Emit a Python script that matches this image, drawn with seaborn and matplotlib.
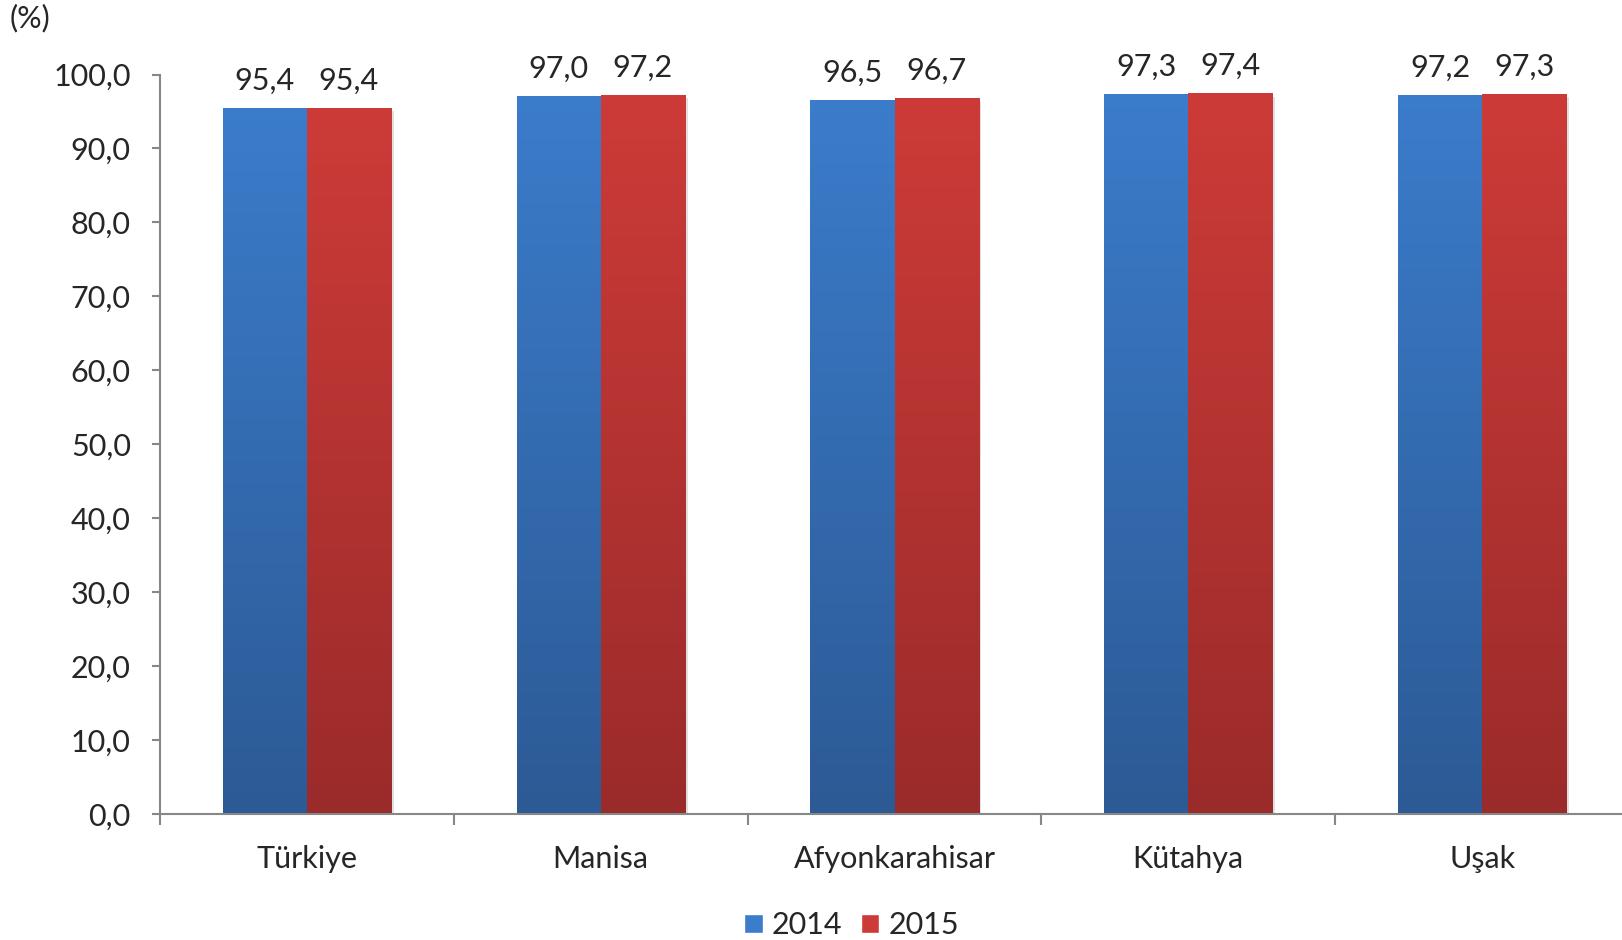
import numpy as np
import pandas as pd
import matplotlib
matplotlib.use("Agg")
import matplotlib.pyplot as plt
import seaborn as sns
from matplotlib.colors import LinearSegmentedColormap
from matplotlib.patches import Patch
from matplotlib.ticker import FuncFormatter, FixedLocator
import matplotlib.patheffects as pe

iller = ["Türkiye", "Manisa", "Afyonkarahisar", "Kütahya", "Uşak"]
yillar = ["2014", "2015"]
oran_2014 = [95.4, 97.0, 96.5, 97.3, 97.2]
oran_2015 = [95.4, 97.2, 96.7, 97.4, 97.3]

df = pd.DataFrame({
    "il": iller * 2,
    "yil": ["2014"] * len(iller) + ["2015"] * len(iller),
    "oran": oran_2014 + oran_2015,
})

top_cols = {"2014": "#3B7CCB", "2015": "#CD3B38"}
bot_cols = {"2014": "#2C5A95", "2015": "#9A2B2A"}

sns.set_style("white")
plt.rcParams["font.family"] = ["Lato", "DejaVu Sans"]
FS = 22

fig = plt.figure(figsize=(16.22, 9.4), dpi=100)
ax = fig.add_axes([160 / 1622, 0.134, 1469 / 1622, 0.7867])

sns.barplot(data=df, x="il", y="oran", hue="yil", order=iller, hue_order=yillar,
            palette=top_cols, width=0.572, dodge=True, legend=False,
            saturation=1, ax=ax, linewidth=0)

# dikey renk geçişi (gradient) + hafif gölge
grad = np.linspace(0, 1, 256).reshape(-1, 1)
for cont, yil in zip(ax.containers, yillar):
    cmap = LinearSegmentedColormap.from_list(yil, [bot_cols[yil], top_cols[yil]])
    for bar in cont:
        x0, w, h = bar.get_x(), bar.get_width(), bar.get_height()
        bar.set_path_effects([pe.SimplePatchShadow(offset=(2, -2), shadow_rgbFace="#999999",
                                                   alpha=0.3), pe.Normal()])
        ax.imshow(grad, extent=[x0, x0 + w, 0, h], origin="lower", aspect="auto",
                  cmap=cmap, zorder=bar.get_zorder() + 0.1)
        ax.annotate(f"{h:.1f}".replace(".", ","), (x0 + w / 2, h), xytext=(0, 20),
                    textcoords="offset points", ha="center", va="center", fontsize=FS)

ax.set_xlim(-0.5, len(iller) - 0.5)
ax.set_ylim(0, 100)
ax.set_yticks(np.arange(0, 101, 10))
ax.yaxis.set_major_formatter(FuncFormatter(lambda v, p: f"{v:.1f}".replace(".", ",")))
ax.set_xlabel("")
ax.set_ylabel("")

for s in ["top", "right"]:
    ax.spines[s].set_visible(False)
for s in ["left", "bottom"]:
    ax.spines[s].set_color("#878787")
    ax.spines[s].set_linewidth(1.5)
ax.spines["bottom"].set_zorder(5)

ax.tick_params(axis="y", length=6, width=1.5, color="#878787", pad=15, labelsize=FS, left=True)
ax.tick_params(axis="x", which="major", length=0, pad=22, labelsize=FS)
ax.xaxis.set_minor_locator(FixedLocator(np.arange(-0.5, len(iller), 1)))
ax.tick_params(axis="x", which="minor", length=8, width=1.5, color="#878787", bottom=True)

fig.text(10 / 1622, 1 - 18 / 940, "(%)", fontsize=FS, va="center", ha="left")

handles = [Patch(facecolor=top_cols[y], label=y) for y in yillar]
fig.legend(handles=handles, loc="center", bbox_to_anchor=(0.525, 1 - 925 / 940), ncol=2,
           frameon=False, fontsize=FS, handlelength=0.6, handleheight=0.6,
           handletextpad=0.3, columnspacing=0.6)

fig.savefig("out.png", dpi=100)
